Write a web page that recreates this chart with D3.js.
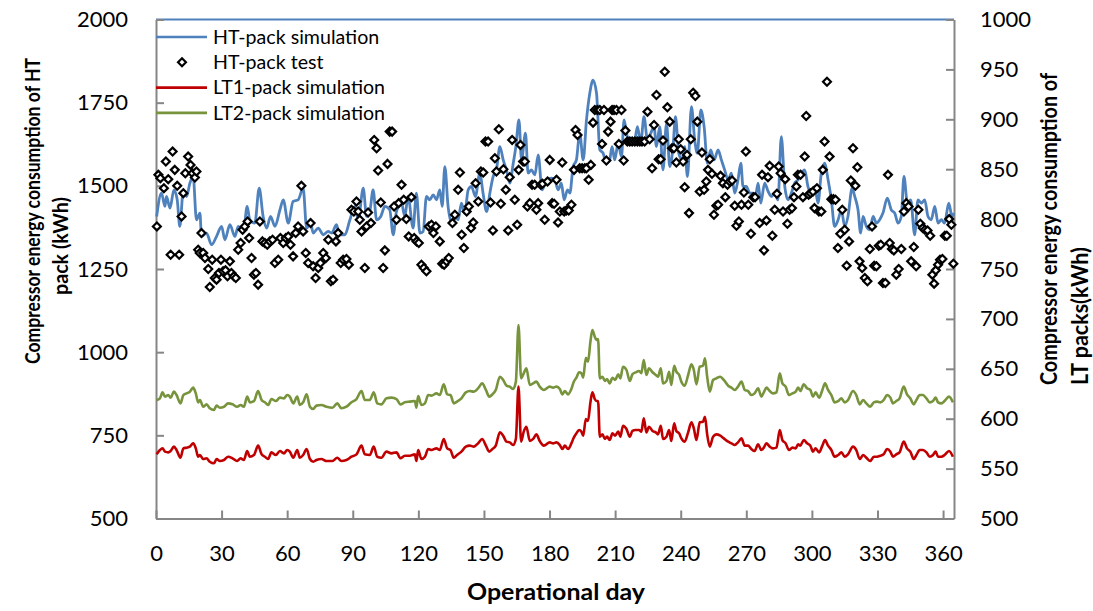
<!DOCTYPE html>
<html>
<head>
<meta charset="utf-8">
<script src="https://cdnjs.cloudflare.com/ajax/libs/d3/7.8.5/d3.min.js"></script>
<style>
  body { margin: 0; background: #fff; }
  text { font-family: Lato, "Open Sans", sans-serif; }
</style>
</head>
<body>
<svg id="chart"></svg>
<script>
// Tick labels
const dayTicks = [0, 30, 60, 90, 120, 150, 180, 210, 240, 270, 300, 330, 360];
const htTicks = [500, 750, 1000, 1250, 1500, 1750, 2000];
const ltTicks = [500, 550, 600, 650, 700, 750, 800, 850, 900, 950, 1000];

// HT-pack simulation (kWh)
const htSimDay = [0.3,2.5,4.1,4.8,6.4,8.2,9.7,10.9,12.5,14.0,15.5,17.0,18.5,20.1,20.8,23.1,25.4,27.7,30.0,31.5,33.8,36.1,37.6,39.9,41.7,42.9,45.2,47.2,49.0,50.6,52.4,54.4,56.7,58.2,60.5,62.7,65.0,67.3,68.9,70.7,71.9,74.2,76.5,78.8,80.3,82.6,83.8,86.4,88.7,91.0,92.5,94.8,96.3,97.8,99.3,100.9,102.8,104.7,106.9,108.5,110.0,112.3,113.8,115.3,117.6,119.1,120.7,122.2,123.7,125.2,126.8,128.3,129.8,130.9,132.1,133.6,135.2,136.7,138.2,139.7,141.2,142.8,144.3,146.1,148.1,149.6,151.2,152.7,154.2,155.7,157.3,158.8,160.3,161.8,163.4,164.6,166.0,167.2,169.0,170.2,171.7,173.3,174.8,176.6,178.6,180.9,182.4,183.9,185.4,186.7,188.2,189.3,190.8,192.3,193.8,195.4,196.9,198.4,199.9,201.5,203.0,204.5,206.0,207.5,208.6,209.8,211.4,212.9,214.1,215.6,217.2,218.7,220.2,221.7,223.2,224.8,226.3,227.8,228.9,230.4,231.9,233.5,235.0,236.5,237.6,239.1,240.6,241.8,243.1,244.9,246.4,247.6,249.2,250.7,252.2,253.7,255.3,257.1,258.6,260.1,261.7,263.2,264.7,266.2,267.5,268.5,270.0,271.6,273.1,273.9,275.4,276.6,278.4,280.0,281.5,283.0,284.5,286.0,287.6,289.1,290.6,292.1,293.7,295.2,296.7,298.2,299.8,301.3,302.8,304.3,305.9,307.4,308.9,310.4,312.0,313.5,315.0,316.5,318.4,319.6,321.1,322.3,323.4,324.9,326.4,328.0,329.5,331.0,332.5,334.5,336.3,337.9,339.4,340.9,342.1,343.7,345.2,347.0,348.5,350.1,351.6,353.1,354.6,356.2,357.7,359.2,360.7,362.6,364.1,365.0];
const htSimVal = [1408,1478,1438,1468,1433,1488,1458,1378,1488,1468,1508,1528,1398,1418,1348,1358,1323,1348,1378,1338,1383,1348,1378,1358,1438,1398,1388,1493,1408,1373,1408,1378,1428,1458,1388,1453,1458,1493,1373,1388,1358,1373,1353,1363,1358,1383,1353,1353,1398,1438,1398,1493,1408,1423,1488,1398,1408,1438,1428,1353,1423,1448,1408,1468,1373,1478,1358,1363,1468,1458,1473,1458,1488,1438,1558,1438,1388,1408,1398,1448,1418,1488,1498,1468,1538,1478,1423,1478,1528,1548,1618,1578,1548,1508,1568,1618,1698,1578,1658,1538,1548,1533,1593,1488,1518,1523,1518,1488,1508,1458,1488,1478,1558,1578,1658,1578,1698,1778,1818,1778,1608,1598,1568,1578,1618,1578,1628,1588,1698,1648,1638,1628,1678,1628,1708,1638,1658,1678,1618,1678,1548,1688,1558,1618,1708,1598,1578,1618,1528,1738,1638,1598,1728,1678,1568,1608,1578,1608,1578,1548,1518,1538,1478,1518,1568,1498,1498,1478,1478,1458,1508,1448,1508,1483,1468,1478,1458,1648,1498,1458,1478,1508,1518,1538,1548,1498,1478,1498,1448,1538,1568,1518,1458,1378,1398,1428,1378,1408,1493,1468,1428,1358,1408,1378,1368,1408,1388,1398,1418,1463,1428,1418,1388,1408,1528,1448,1458,1353,1458,1448,1458,1408,1398,1438,1388,1398,1388,1448,1408,1418];

// HT-pack test (kWh)
const htTestDay = [0.4,1.1,2.0,3.6,4.5,5.6,6.7,7.6,8.6,9.7,10.6,11.7,12.5,13.4,14.7,15.8,16.7,17.8,18.5,19.3,20.0,20.8,21.6,22.4,23.9,24.6,25.7,26.9,27.7,28.8,29.7,30.7,31.8,32.7,33.8,34.5,35.6,36.5,37.6,38.7,39.6,40.6,41.9,42.6,43.7,44.8,45.7,46.7,47.5,48.7,49.8,50.9,52.1,53.3,54.4,55.9,56.9,58.2,59.4,60.5,61.5,62.7,63.9,65.0,66.5,67.3,68.5,69.6,70.7,71.9,73.0,74.2,75.2,76.5,77.7,78.8,80.0,81.0,82.3,83.3,84.5,85.6,87.1,88.2,89.4,90.5,
  91.7,92.5,93.2,94.0,95.5,96.3,97.0,98.3,99.8,100.9,101.6,102.8,103.9,104.7,105.9,106.9,108.0,108.9,110.0,111.0,112.3,113.3,114.5,115.6,116.8,118.1,119.2,120.2,121.4,122.5,123.7,124.8,126.0,126.9,128.0,129.8,130.9,131.8,132.9,133.9,135.6,136.7,138.2,139.0,139.8,140.8,142.1,143.1,144.1,145.1,146.2,147.4,148.6,149.7,150.7,151.9,153.0,154.1,155.0,155.7,156.8,157.7,158.9,160.0,161.1,161.8,162.9,164.1,165.2,165.9,166.7,167.9,168.7,169.9,171.0,172.0,173.2,174.0,174.8,176.0,176.8,177.8,179.1,180.1,181.2,182.1,
  183.2,183.9,184.7,185.8,186.7,187.7,188.8,190.0,191.2,191.9,192.8,193.8,194.9,196.1,196.9,197.9,198.9,199.9,200.7,201.9,203.0,204.0,204.9,206.0,206.8,207.9,208.6,209.5,210.6,211.7,212.9,213.9,214.7,215.6,216.7,217.8,219.0,220.2,221.3,222.3,223.5,224.8,225.8,226.9,227.8,228.9,229.9,230.8,231.9,232.7,233.9,235.0,236.0,236.9,238.0,239.1,240.0,241.1,241.8,242.9,243.8,244.6,245.7,246.7,247.6,248.7,249.7,250.7,251.7,252.5,253.3,254.3,255.2,256.3,257.1,258.2,259.3,260.4,261.4,262.4,263.5,264.7,265.5,266.6,267.8,268.9,269.8,270.9,272.1,273.2,
  274.0,276.1,277.2,278.1,279.2,279.9,280.7,281.9,283.0,284.0,284.8,285.7,286.8,287.8,288.8,289.8,290.9,291.8,292.9,293.6,294.8,295.9,296.7,297.4,298.5,299.4,300.5,301.2,302.3,303.2,304.3,305.0,305.8,306.9,308.1,308.9,309.9,310.8,311.9,313.0,313.9,315.0,315.9,317.0,317.8,318.8,319.9,320.8,321.8,323.0,324.2,325.4,326.5,327.5,328.5,329.5,330.6,331.5,332.5,333.6,334.8,335.6,336.6,337.5,338.6,339.7,340.9,342.1,343.2,344.2,345.4,346.6,347.7,348.7,349.6,350.7,351.7,352.9,354.1,355.1,355.9,356.7,357.7,358.6,359.7,360.8,361.7,362.8,363.8,364.7];
const htTestVal = [1378,1533,1523,1493,1573,1520,1293,1603,1548,1500,1293,1408,1478,1538,1588,1563,1538,1525,1543,1308,1298,1358,1298,1283,1250,1196,1278,1223,1218,1238,1278,1243,1246,1228,1273,1238,1228,1223,1308,1328,1368,1378,1393,1343,1283,1233,1238,1203,1393,1333,1328,1323,1333,1338,1268,1278,1343,1328,1343,1348,1323,1288,1358,1378,1500,1363,1298,1268,1388,1258,1223,1253,1268,1298,1283,1338,1213,1218,1333,1358,1268,1278,1280,1263,1428,1423,
  1453,1423,1398,1363,1253,1378,1420,1388,1638,1613,1546,1450,1253,1306,1566,1663,1663,1438,1398,1448,1503,1458,1400,1348,1466,1343,1333,1328,1263,1253,1243,1378,1383,1358,1378,1333,1266,1263,1273,1283,1388,1413,1488,1540,1353,1313,1423,1438,1373,1390,1508,1453,1543,1540,1633,1633,1450,1366,1583,1543,1670,1446,1550,1488,1366,1526,1638,1458,1383,1548,1623,1573,1573,1438,1448,1503,1503,1428,1448,1503,1506,1398,1513,1578,1448,1446,
  1518,1390,1423,1570,1423,1426,1426,1443,1548,1668,1653,1553,1553,1553,1553,1518,1563,1690,1728,1728,1728,1626,1728,1576,1663,1693,1728,1728,1728,1626,1728,1576,1666,1633,1633,1633,1633,1633,1633,1633,1633,1723,1640,1553,1683,1773,1580,1580,1636,1843,1736,1693,1613,1613,1570,1640,1610,1573,1496,1593,1418,1640,1780,1770,1693,1483,1600,1488,1513,1548,1580,1536,1413,1440,1443,1530,1508,1466,1503,1513,1516,1440,1380,1393,1443,1480,1603,1443,1356,1466,
  1466,1388,1533,1306,1396,1526,1560,1350,1428,1476,1558,1538,1423,1520,1386,1428,1433,1466,1498,1533,1533,1466,1588,1710,1473,1478,1483,1433,1493,1423,1423,1548,1633,1813,1588,1460,1460,1458,1313,1356,1428,1368,1260,1333,1516,1613,1500,1556,1273,1253,1223,1213,1310,1378,1260,1258,1320,1323,1208,1208,1533,1328,1310,1306,1233,1250,1310,1423,1448,1438,1273,1316,1258,1428,1386,1373,1368,1366,1350,1233,1206,1246,1263,1278,1280,1350,1350,1400,1383,1266];

// LT1 / LT2-pack simulation (kWh, right axis)
const ltDay = [0.3,1.8,3.0,4.1,5.6,6.7,8.2,9.4,11.2,12.5,14.0,15.5,17.0,18.2,19.3,20.1,21.6,23.1,24.6,26.5,27.7,29.2,31.1,33.0,35.0,37.1,38.7,40.2,41.7,42.9,44.8,46.7,48.3,49.8,51.3,52.8,54.8,56.7,58.5,60.0,61.2,62.8,64.6,65.8,67.3,68.9,70.4,71.9,73.4,75.7,78.0,80.7,82.9,84.8,87.1,89.4,91.7,94.0,95.5,97.8,99.6,101.2,103.1,105.4,107.7,110.0,111.8,113.8,116.1,118.4,119.1,119.9,121.4,123.0,124.5,126.0,128.3,129.8,131.6,133.2,134.7,136.2,137.7,139.7,141.7,143.5,145.4,147.3,149.2,150.9,152.4,153.9,155.4,157.3,158.8,160.3,161.8,163.3,164.6,165.8,167.0,168.2,169.4,171.0,172.5,174.0,175.5,177.4,180.1,181.6,183.2,184.7,185.9,187.0,188.5,190.0,191.1,192.3,193.5,194.6,195.4,196.6,197.6,198.7,199.6,200.7,201.4,202.2,203.0,204.2,205.3,206.3,207.5,208.8,210.0,211.4,212.4,213.6,215.2,216.7,217.9,219.4,221.0,222.0,223.1,224.3,225.5,227.1,228.6,229.6,230.9,231.9,233.5,234.7,235.7,237.0,238.0,239.3,240.3,241.8,243.4,244.9,246.0,247.2,248.7,250.2,251.1,252.1,253.3,254.8,256.3,258.1,259.7,261.7,263.2,264.7,266.2,267.8,269.3,270.8,272.3,273.8,275.4,276.9,278.0,279.2,280.7,282.2,283.8,285.3,286.5,288.0,289.5,291.1,292.6,293.7,294.7,296.3,297.8,299.3,300.5,301.7,303.3,304.8,306.0,307.4,308.9,310.4,312.0,313.5,315.0,316.5,318.8,320.3,321.9,323.4,324.9,326.7,328.3,329.8,331.3,332.8,334.4,335.9,337.1,338.6,340.1,342.0,343.5,345.0,346.6,347.8,349.3,350.8,352.4,353.9,355.4,356.6,357.7,359.2,360.7,362.7,364.5];
const lt1Val = [564.3,568.6,570.3,567.0,566.3,567.6,572.0,568.6,560.9,570.3,571.0,572.0,575.3,570.3,561.9,563.6,559.6,560.3,556.9,555.3,559.6,557.6,558.6,561.9,560.3,557.6,560.3,558.6,567.6,561.9,563.6,573.0,564.3,561.9,559.6,566.3,563.6,567.6,565.3,568.6,567.0,560.9,568.6,560.9,563.6,569.6,559.6,556.9,558.6,559.6,557.6,557.6,560.9,557.6,558.6,561.9,564.3,573.0,564.3,563.6,572.0,561.9,560.9,567.0,565.3,566.3,560.3,562.9,562.9,564.3,557.6,568.6,559.6,561.9,569.6,568.6,570.3,568.6,579.7,570.3,568.6,560.9,563.6,567.0,572.0,573.0,572.0,575.3,579.7,573.0,567.0,569.6,573.0,586.3,583.0,577.0,576.3,573.6,579.7,632.1,577.0,587.0,592.0,577.6,579.7,584.3,577.6,573.0,576.3,575.3,576.3,573.6,569.6,573.0,569.6,575.3,581.0,585.3,588.7,587.0,583.0,599.7,597.7,616.4,626.4,619.7,617.7,617.7,582.0,584.3,579.7,582.0,578.6,585.3,583.0,587.0,582.0,593.0,589.7,582.0,587.7,588.7,588.7,587.0,600.4,586.3,592.0,587.7,586.3,584.3,593.0,579.7,582.0,588.7,577.6,595.4,587.7,585.3,580.3,577.0,586.3,596.4,590.3,578.6,596.4,597.0,602.0,584.3,572.0,582.0,584.3,583.0,580.3,577.0,575.3,573.6,576.3,580.3,573.0,573.0,569.6,567.6,574.3,568.6,571.0,575.3,572.0,570.3,571.0,588.7,578.6,575.3,568.6,571.0,570.3,574.3,573.0,578.6,575.3,573.0,567.0,570.3,566.3,573.0,578.6,573.0,568.6,561.9,563.6,566.3,561.9,564.3,572.0,568.6,559.6,563.6,560.9,557.6,561.9,561.9,562.9,564.3,569.6,567.0,561.9,564.3,566.3,577.0,570.3,567.0,559.6,563.6,568.6,568.6,566.3,561.9,563.6,567.0,561.9,561.9,563.6,567.6,561.9];
const lt2Val = [618.7,620.4,626.4,622.1,623.7,621.1,627.1,623.7,615.4,623.7,625.4,627.1,631.1,625.4,616.4,618.7,612.0,614.4,610.4,608.7,613.1,611.0,612.0,615.4,614.4,612.0,613.7,612.0,622.1,616.4,617.7,627.7,618.7,616.4,613.7,619.7,617.7,621.1,620.4,623.7,622.1,615.4,622.1,613.7,616.4,624.4,612.0,609.7,613.1,613.7,612.0,611.0,615.4,610.4,612.0,616.4,619.7,627.7,618.7,618.7,626.4,615.4,614.4,620.4,621.1,619.7,614.4,616.4,617.1,617.7,611.0,622.7,613.7,615.4,623.7,623.1,625.4,623.7,634.4,624.4,623.7,615.4,617.1,620.4,626.4,627.7,627.1,630.4,635.4,628.8,622.1,624.4,628.8,642.1,638.8,633.1,632.1,629.8,637.1,693.9,640.4,645.5,650.5,633.8,635.4,637.1,632.1,628.8,632.1,631.1,632.1,629.8,624.4,627.7,624.4,629.8,637.1,641.1,646.5,645.5,641.1,661.1,657.1,677.2,688.9,682.2,678.9,679.9,640.4,642.1,637.8,639.8,635.4,641.1,638.8,644.4,640.4,652.1,648.8,637.8,644.4,646.5,647.8,645.5,658.8,643.8,650.5,646.5,643.8,642.1,650.5,635.4,637.8,647.1,633.8,653.1,647.1,643.8,637.1,633.1,643.8,654.5,648.8,634.4,652.1,653.1,660.5,642.1,627.1,638.8,640.4,642.1,638.8,633.1,631.1,628.8,632.1,637.1,628.8,627.7,623.7,625.4,630.4,622.1,626.4,631.1,627.7,625.4,626.4,645.5,635.4,632.1,623.7,625.4,627.1,631.1,627.7,634.4,630.4,628.8,622.1,626.4,621.1,628.8,635.4,628.8,623.7,616.4,617.7,620.4,616.4,618.7,627.7,623.7,614.4,618.7,615.4,612.0,616.4,617.1,616.4,618.7,623.7,621.1,615.4,617.7,620.4,632.1,624.4,620.4,614.4,618.7,623.7,623.7,620.4,616.4,617.7,621.1,616.4,615.4,617.7,622.1,616.4];

const legendNames = ['HT-pack simulation', 'HT-pack test', 'LT1-pack simulation', 'LT2-pack simulation'];
const colors = { ht: '#4f81bd', lt1: '#c00000', lt2: '#77933c', axis: '#868686' };

const width = 1093, height = 611;
const plot = { left: 156, right: 954, top: 19.5, bottom: 518.5 };

const svg = d3.select('#chart').attr('width', width).attr('height', height);

const x = d3.scaleLinear().domain([0, 365]).range([plot.left, plot.right]);
const yHt = d3.scaleLinear().domain([500, 2000]).range([plot.bottom, plot.top]);
const yLt = d3.scaleLinear().domain([500, 1000]).range([plot.bottom, plot.top]);

// top border drawn blue like the reference
svg.append('line')
  .attr('x1', plot.left).attr('x2', plot.right)
  .attr('y1', yHt(2000)).attr('y2', yHt(2000))
  .attr('stroke', colors.ht).attr('stroke-width', 2);

// Axes
const fmt = d3.format('d');
const styleAxis = g => {
  g.select('.domain').attr('stroke', colors.axis).attr('stroke-width', 2);
  g.selectAll('.tick line').attr('stroke', colors.axis).attr('stroke-width', 2);
  g.selectAll('.tick text').attr('fill', '#000').style('font-size', '22px');
};

svg.append('g')
  .attr('transform', `translate(${plot.left},0)`)
  .call(d3.axisLeft(yHt).tickValues(htTicks).tickFormat(fmt).tickSizeInner(-8).tickSizeOuter(0).tickPadding(28))
  .call(styleAxis);

svg.append('g')
  .attr('transform', `translate(${plot.right},0)`)
  .call(d3.axisRight(yLt).tickValues(ltTicks).tickFormat(fmt).tickSizeInner(-8).tickSizeOuter(0).tickPadding(26))
  .call(styleAxis);

svg.append('g')
  .attr('transform', `translate(0,${plot.bottom})`)
  .call(d3.axisBottom(x).tickValues(dayTicks).tickFormat(fmt).tickSizeInner(-8).tickSizeOuter(0).tickPadding(27))
  .call(styleAxis);

// Lines
const makeLine = (xs, ys, yScale) => d3.line()
  .x((d, i) => x(xs[i]))
  .y(d => yScale(d))
  .curve(d3.curveMonotoneX)(ys);

svg.append('path').attr('d', makeLine(ltDay, lt2Val, yLt))
  .attr('fill', 'none').attr('stroke', colors.lt2).attr('stroke-width', 2.6);
svg.append('path').attr('d', makeLine(ltDay, lt1Val, yLt))
  .attr('fill', 'none').attr('stroke', colors.lt1).attr('stroke-width', 2.6);
svg.append('path').attr('d', makeLine(htSimDay, htSimVal, yHt))
  .attr('fill', 'none').attr('stroke', colors.ht).attr('stroke-width', 2.8);

// Test points as diamonds
const diamond = d3.symbol().type(d3.symbolDiamond2).size(40);
svg.append('g').selectAll('path')
  .data(htTestVal)
  .enter()
  .append('path')
  .attr('d', diamond)
  .attr('transform', (d, i) => `translate(${x(htTestDay[i])},${yHt(d)})`)
  .attr('fill', '#fff')
  .attr('stroke', '#000')
  .attr('stroke-width', 2.2);

// Legend
const legend = svg.append('g').attr('transform', `translate(${plot.left},37)`);
const legendStyles = [
  { type: 'line', color: colors.ht },
  { type: 'point' },
  { type: 'line', color: colors.lt1 },
  { type: 'line', color: colors.lt2 }
];
legendNames.forEach((name, i) => {
  const row = legend.append('g').attr('transform', `translate(0,${i * 25.3})`);
  const s = legendStyles[i];
  if (s.type === 'line') {
    row.append('line').attr('x1', 0).attr('x2', 51).attr('y1', 0).attr('y2', 0)
      .attr('stroke', s.color).attr('stroke-width', 2.6);
  } else {
    row.append('path').attr('d', diamond).attr('transform', 'translate(26,0)')
      .attr('fill', '#fff').attr('stroke', '#000').attr('stroke-width', 2.2);
  }
  row.append('text').attr('x', 57).attr('dy', '0.35em')
    .style('font-size', '19.6px').attr('fill', '#000').text(name);
});

// Axis titles
const title = (tx, ty, rot, txt, len, size, anchor) => svg.append('text')
  .attr('transform', `translate(${tx},${ty}) rotate(${rot})`)
  .attr('text-anchor', anchor || 'middle')
  .attr('textLength', len).attr('lengthAdjust', 'spacingAndGlyphs')
  .style('font-size', size + 'px').style('font-weight', 'bold')
  .attr('fill', '#000').text(txt);

title(40, 211, -90, 'Compressor energy consumption of HT', 306, 21);
title(68, 246, -90, 'pack (kWh)', 98, 21);
title(1057, 385, -90, 'Compressor energy consumption of', 312, 22, 'start');
title(1088, 385, -90, 'LT packs(kWh)', 138, 22, 'start');
title(556, 600, 0, 'Operational day', 178, 23);
</script>
</body>
</html>
